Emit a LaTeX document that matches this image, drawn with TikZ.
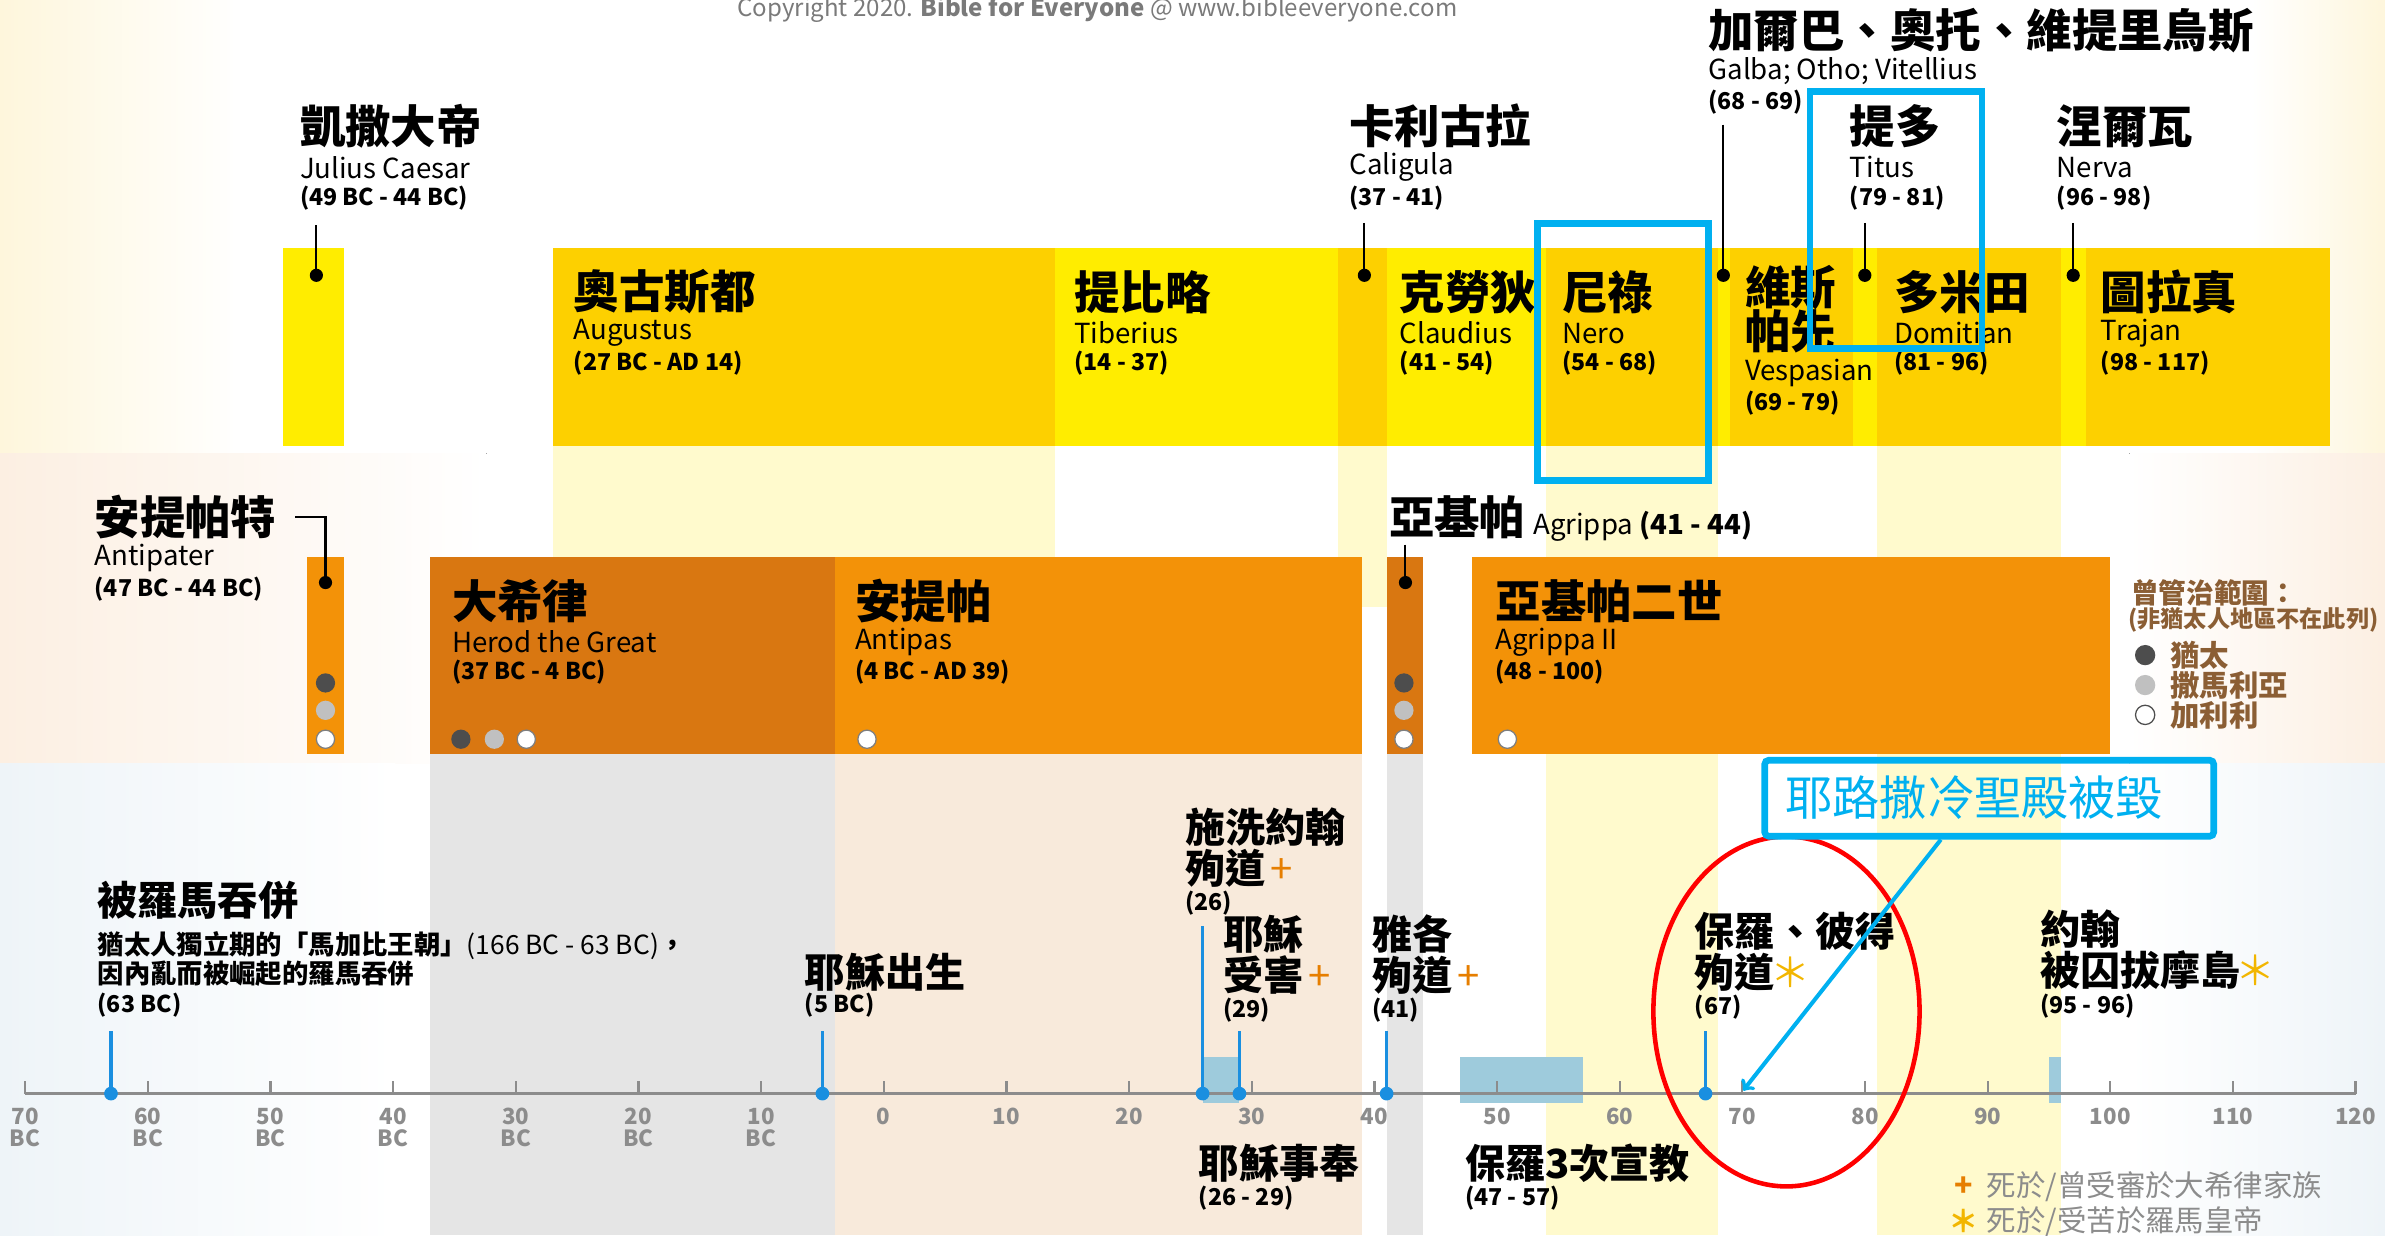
\documentclass[tikz,border=0pt]{standalone}
\usepackage{fontspec}
\setmainfont{Noto Sans CJK TC}
\usepackage{tikz}

\definecolor{sunyellow}{HTML}{FFED00}
\definecolor{goldyellow}{HTML}{FDD000}
\definecolor{paleyellow}{HTML}{FFFACD}
\definecolor{lightorange}{HTML}{F39208}
\definecolor{darkorange}{HTML}{D97711}
\definecolor{palegray}{HTML}{E5E5E5}
\definecolor{palepeach}{HTML}{F8EADB}
\definecolor{pinblue}{HTML}{1A8FE0}
\definecolor{spanblue}{HTML}{9ECBDC}
\definecolor{callcyan}{HTML}{00B0F0}
\definecolor{axisgray}{HTML}{8C8C8C}
\definecolor{copygray}{HTML}{7A7A7A}
\definecolor{legbrown}{HTML}{8B5E34}
\definecolor{crossorange}{HTML}{E67E00}
\definecolor{staryellow}{HTML}{F2B600}
\definecolor{judeagray}{HTML}{4D4D4D}
\definecolor{samgray}{HTML}{C0C0C0}
\definecolor{galgray}{HTML}{7F7F7F}
\definecolor{creamedge}{HTML}{FEF6DC}
\definecolor{peachedge}{HTML}{FCEFE2}
\definecolor{blueedge}{HTML}{EEF4F8}

\begin{document}
\begin{tikzpicture}[x=0.3mm, y=-0.3mm,
  hd/.style={anchor=west, inner sep=0pt, font=\bfseries\fontsize{25.5}{27}\selectfont},
  hdsm/.style={anchor=west, inner sep=0pt, font=\bfseries\fontsize{22.5}{24}\selectfont},
  en/.style={anchor=west, inner sep=0pt, font=\fontsize{15.5}{17}\selectfont},
  yrs/.style={anchor=west, inner sep=0pt, font=\bfseries\fontsize{13}{14}\selectfont},
  note/.style={anchor=west, inner sep=0pt, font=\bfseries\fontsize{14.8}{16}\selectfont},
  pin/.style={line width=0.4mm},
  pindot/.style={circle, fill=black, inner sep=0pt, minimum size=2.6mm},
  bluepin/.style={pinblue, line width=0.6mm},
  bluedot/.style={circle, fill=pinblue, inner sep=0pt, minimum size=2.7mm},
  jdot/.style={circle, fill=judeagray, inner sep=0pt, minimum size=3.8mm},
  sdot/.style={circle, fill=samgray, inner sep=0pt, minimum size=3.8mm},
  gdot/.style={circle, fill=white, draw=galgray, line width=0.25mm, inner sep=0pt, minimum size=3.6mm},
  tick/.style={inner sep=0pt, text=axisgray, font=\bfseries\fontsize{12.5}{13}\selectfont},
  legtext/.style={anchor=west, inner sep=0pt, text=legbrown, font=\bfseries\fontsize{16.5}{18}\selectfont},
  keytext/.style={anchor=west, inner sep=0pt, text=axisgray, font=\fontsize{16.5}{18}\selectfont},
  focus/.style={draw=callcyan, line width=1.35mm},
  callout/.style={draw=callcyan, line width=1.3mm, rounded corners=0.8mm, text=callcyan,
    font=\fontsize{26.5}{28}\selectfont, text width=80.4mm, align=left,
    inner xsep=4.08mm, inner ysep=0pt, minimum height=15mm}]

  % year -> x position on the time line
  \def\yx#1{581+8.064*(#1)}
  % heading, english name and years under one another
  \def\trio#1#2#3#4#5#6{%
    \node[hd] (#1) at (#2,#3) {#4};
    \node[en] (#1-en) at (#2,#3+27) {#5};
    \node[yrs] (#1-yr) at (#2,#3+47) {#6};}
  \def\cross{\hspace{0.12em}{\mdseries\color{crossorange}+}}
  \def\astr{\hspace{-0.12em}{\mdseries\color{staryellow}＊}}

  \useasboundingbox (0,0) rectangle (1568,812);

  % faded edges of the three rows
  \fill[left color=creamedge, right color=white] (0,0) rectangle (160,298);
  \fill[left color=white, right color=creamedge] (1480,0) rectangle (1568,298);
  \fill[left color=peachedge, right color=white] (0,298) rectangle (320,502);
  \fill[left color=white, right color=peachedge] (1400,298) rectangle (1568,502);
  \fill[left color=blueedge, right color=white] (0,502) rectangle (260,812);
  \fill[left color=white, right color=blueedge] (1400,502) rectangle (1568,812);

  % pale columns running down
  \fill[paleyellow] ({\yx{-27}},293) rectangle ({\yx{14}},366);
  \fill[paleyellow] ({\yx{37}},293) rectangle ({\yx{41}},399);
  \fill[paleyellow] ({\yx{54}},293) rectangle ({\yx{68}},812);
  \fill[paleyellow] ({\yx{81}},293) rectangle ({\yx{96}},812);
  \fill[palegray] ({\yx{-37}},496) rectangle ({\yx{-4}},812);
  \fill[palepeach] ({\yx{-4}},496) rectangle ({\yx{39}},812);
  \fill[palegray] ({\yx{41}},496) rectangle ({\yx{44}},812);

  % emperors
  \foreach \a/\b in {-49/-44, 14/37, 41/54, 68/69, 79/81, 96/98}
    \fill[sunyellow] ({\yx{\a}},163) rectangle ({\yx{\b}},293);
  \foreach \a/\b in {-27/14, 37/41, 54/68, 69/79, 81/96}
    \fill[goldyellow] ({\yx{\a}},163) rectangle ({\yx{\b}},293);
  \fill[goldyellow] ({\yx{98}},163) rectangle (1532,293);

  % herod family
  \foreach \a/\b in {-47/-44, -4/39, 48/100}
    \fill[lightorange] ({\yx{\a}},366) rectangle ({\yx{\b}},496);
  \foreach \a/\b in {-37/-4, 41/44}
    \fill[darkorange] ({\yx{\a}},366) rectangle ({\yx{\b}},496);

  \node[anchor=base, inner sep=0pt, text=copygray, font=\fontsize{13.5}{14}\selectfont] (copyright) at (721.5,11)
    {Copyright 2020. \textbf{Bible for Everyone} @ www.bibleeveryone.com};

  % labels above the boxes
  \trio{caesar}{197}{83}{凱撒大帝}{Julius Caesar}{(49 BC - 44 BC)}
  \trio{caligula}{887}{83}{卡利古拉}{Caligula}{(37 - 41)}
  \trio{galba}{1123}{20}{加爾巴、奧托、維提里烏斯}{Galba; Otho; Vitellius}{(68 - 69)}
  \trio{titus}{1216}{83}{提多}{Titus}{(79 - 81)}
  \trio{nerva}{1352}{83}{涅爾瓦}{Nerva}{(96 - 98)}

  % labels in the boxes
  \trio{augustus}{377}{192}{奧古斯都}{Augustus}{(27 BC - AD 14)}
  \trio{tiberius}{706}{192}{提比略}{Tiberius}{(14 - 37)}
  \trio{claudius}{920}{192}{克勞狄}{Claudius}{(41 - 54)}
  \trio{nero}{1027}{192}{尼祿}{Nero}{(54 - 68)}
  \node[hd] (vespasian) at (1147,189) {維斯};
  \node[hd] (vespasian-2) at (1147,218) {帕先};
  \node[en] (vespasian-en) at (1147,245) {Vespasian};
  \node[yrs] (vespasian-yr) at (1147,265) {(69 - 79)};
  \trio{domitian}{1245}{192}{多米田}{Domitian}{(81 - 96)}
  \trio{trajan}{1381}{192}{圖拉真}{Trajan}{(98 - 117)}

  \trio{antipater}{62}{340}{安提帕特}{Antipater}{(47 BC - 44 BC)}
  \trio{herod}{297}{395}{大希律}{Herod the Great}{(37 BC - 4 BC)}
  \trio{antipas}{562}{395}{安提帕}{Antipas}{(4 BC - AD 39)}
  \trio{agrippatwo}{983}{395}{亞基帕二世}{Agrippa II}{(48 - 100)}
  \node[hd] (agrippa) at (913,340) {亞基帕};
  \node[en, anchor=base west] (agrippa-en) at ([xshift=1.4mm]agrippa.base east) {Agrippa {\bfseries(41 - 44)}};

  % black pins
  \foreach \nm/\px/\up/\dn in {caesar/208/148/181, caligula/897/146.5/181, galba/1133/82/181,
      titus/1226/146.5/181, nerva/1363/146.5/181, agrippa/924/358/383} {
    \coordinate (\nm-up) at (\px,\up);
    \coordinate (\nm-pt) at (\px,\dn);
    \draw[pin] (\nm-up) -- (\nm-pt);
    \node[pindot] (\nm-dot) at (\nm-pt) {};
  }
  \coordinate (antipater-pt) at (214,383);
  \draw[pin] ([xshift=3.6mm]antipater.east) -| (antipater-pt);
  \node[pindot] (antipater-dot) at (antipater-pt) {};

  % regions ruled
  \node[jdot] (antipater-j) at (214,449) {};
  \node[sdot] (antipater-s) at (214,467) {};
  \node[gdot] (antipater-g) at (214,486) {};
  \node[jdot] (herod-j) at (303,486) {};
  \node[sdot] (herod-s) at (325,486) {};
  \node[gdot] (herod-g) at (346,486) {};
  \node[gdot] (antipas-g) at (570,486) {};
  \node[jdot] (agrippa-j) at (923,449) {};
  \node[sdot] (agrippa-s) at (923,467) {};
  \node[gdot] (agrippa-g) at (923,486) {};
  \node[gdot] (agrippatwo-g) at (991,486) {};

  % legend of regions
  \node[legtext, font=\bfseries\fontsize{15.5}{17}\selectfont] (rule) at (1401,389.6) {曾管治範圍：};
  \node[legtext, font=\bfseries\fontsize{13}{14}\selectfont] (rule-2) at (1399,407.7) {(非猶太人地區不在此列)};
  \node[jdot, minimum size=4mm] (key-j) at (1410.3,430.7) {};
  \node[sdot, minimum size=4mm] (key-s) at (1410.3,450.4) {};
  \node[gdot, minimum size=3.8mm, draw=judeagray] (key-g) at (1410.3,470) {};
  \node[legtext] (key-j-t) at (1426.7,430.7) {猶太};
  \node[legtext] (key-s-t) at (1426.7,450.4) {撒馬利亞};
  \node[legtext] (key-g-t) at (1426.7,470) {加利利};

  % events under the time line
  \node[hdsm] (annex) at (64,592) {被羅馬吞併};
  \node[note] (annex-l1) at (64,622) {猶太人獨立期的「馬加比王朝」{\mdseries(166 BC - 63 BC)}，};
  \node[note] (annex-l2) at (64,640) {因內亂而被崛起的羅馬吞併};
  \node[yrs] (annex-yr) at (64,661) {(63 BC)};
  \node[hdsm] (birth) at (529,639) {耶穌出生};
  \node[yrs] (birth-yr) at (529,661) {(5 BC)};
  \node[hdsm] (baptist) at (779,544) {施洗約翰};
  \node[hdsm] (baptist-2) at (779,571) {殉道\cross};
  \node[yrs] (baptist-yr) at (779,594) {(26)};
  \node[hdsm] (passion) at (804,614) {耶穌};
  \node[hdsm] (passion-2) at (804,641) {受害\cross};
  \node[yrs] (passion-yr) at (804,664) {(29)};
  \node[hdsm] (james) at (902,614) {雅各};
  \node[hdsm] (james-2) at (902,641) {殉道\cross};
  \node[yrs] (james-yr) at (902,664) {(41)};
  \node[hdsm] (paulpeter) at (1114,612) {保羅、彼得};
  \node[hdsm] (paulpeter-2) at (1114,639) {殉道\astr};
  \node[yrs] (paulpeter-yr) at (1114,662) {(67)};
  \node[hdsm] (john) at (1341,611) {約翰};
  \node[hdsm] (john-2) at (1341,638) {被囚拔摩島\astr};
  \node[yrs] (john-yr) at (1341,661.4) {(95 - 96)};
  \node[hdsm] (ministry) at (788,765) {耶穌事奉};
  \node[yrs] (ministry-yr) at (788,788) {(26 - 29)};
  \node[hdsm] (journeys) at (963,764.5) {保羅3次宣教};
  \node[yrs] (journeys-yr) at (963,787.7) {(47 - 57)};

  % spans on the time line
  \fill[spanblue] ({\yx{26}},694.7) rectangle ({\yx{29}},725);
  \fill[spanblue] ({\yx{47}},694.7) rectangle ({\yx{57}},725);
  \fill[spanblue] ({\yx{95}},694.7) rectangle ({\yx{96}},725);

  % time line
  \coordinate (axis-l) at ({\yx{-70}},719);
  \coordinate (axis-r) at ({\yx{120}},719);
  \draw[axisgray, line width=0.6mm] (axis-l) -- (axis-r);
  \foreach \t in {-70,-60,...,120}
    \draw[axisgray, line width=0.45mm] ({\yx{\t}},711) -- ({\yx{\t}},719);
  \foreach \t in {-70,-60,...,-10} {
    \pgfmathtruncatemacro{\a}{-\t}
    \node[tick] (tk\t) at ({\yx{\t}},734) {\a};
    \node[tick] (bc\t) at ({\yx{\t}},748) {BC};
  }
  \foreach \t in {0,10,...,120}
    \node[tick] (tk\t) at ({\yx{\t}},734) {\t};

  % blue pins
  \foreach \nm/\when/\up in {annex/-63/678, birth/-5/678, baptist/26/609, passion/29/678,
      james/41/678, paulpeter/67/678} {
    \coordinate (\nm-up) at ({\yx{\when}},\up);
    \coordinate (\nm-ax) at ({\yx{\when}},719);
    \draw[bluepin] (\nm-up) -- (\nm-ax);
    \node[bluedot] (\nm-dot) at (\nm-ax) {};
  }

  % key for + and *
  \node[inner sep=0pt, text=crossorange, font=\bfseries\fontsize{17}{18}\selectfont] (key-cross) at (1291,780) {+};
  \node[keytext] (key-cross-t) at (1306,780) {死於/曾受審於大希律家族};
  \node[inner sep=0pt, text=staryellow, font=\bfseries\fontsize{17}{18}\selectfont] (key-star) at (1291,803) {＊};
  \node[keytext] (key-star-t) at (1306,803) {死於/受苦於羅馬皇帝};

  % marks added on top
  \draw[focus] (1011,147) rectangle (1123.5,316);
  \draw[focus] (1190,60) rectangle (1303,229);
  \draw[red, line width=0.9mm] (1174.5,665) ellipse [x radius=26.25mm, y radius=34.5mm];
  \node[callout] (fall) at (1307.8,524.8) {耶路撒冷聖殿被毀};
  \coordinate (tip) at (1146,717);
  \draw[callcyan, line width=0.8mm, ->] ([xshift=-9.54mm]fall.south) -- (tip);

\end{tikzpicture}
\end{document}
